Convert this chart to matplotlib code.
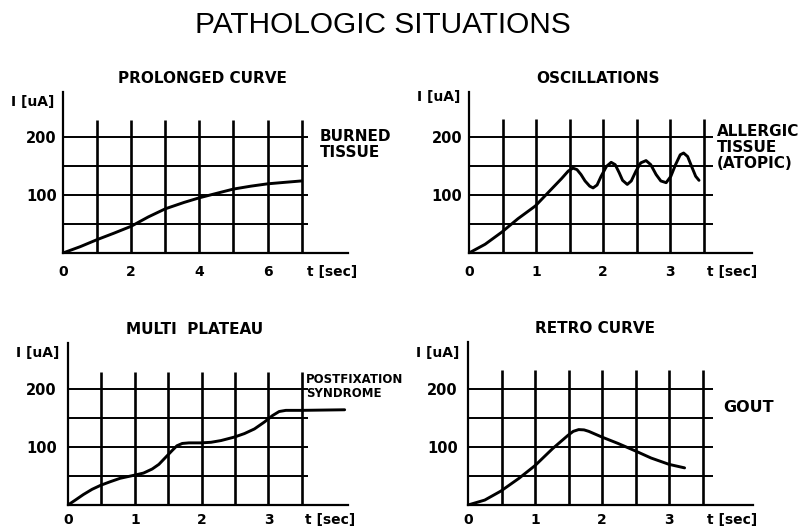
import matplotlib
matplotlib.use("Agg")
import matplotlib.pyplot as plt

plt.rcParams["font.family"] = ["DejaVu Sans"]

W, H = 811, 529

# ---- data -------------------------------------------------------------
# prolonged curve (burned tissue)
t_prolonged = [0, 0.51, 1, 1.49, 2, 2.5, 3, 3.55, 4, 4.53, 5, 5.51, 6, 6.49, 7]
i_prolonged = [0, 11, 23, 34, 46, 62, 76, 87, 95, 103, 110, 115, 119, 121.5, 124]

# oscillations (allergic tissue)
t_osc = [0, 0.24, 0.49, 0.73, 0.99, 1.23, 1.38, 1.48, 1.55, 1.61, 1.67, 1.73,
         1.80, 1.85, 1.91, 1.97, 2.05, 2.12, 2.18, 2.24, 2.29, 2.36, 2.42,
         2.49, 2.56, 2.64, 2.71, 2.79, 2.86, 2.94, 3.01, 3.08, 3.15, 3.20,
         3.26, 3.33, 3.38, 3.43]
i_osc = [0, 15, 36, 59, 81, 110, 128, 141, 146, 143.5, 135, 124,
         115, 112, 117, 132, 149, 156, 152, 138, 125, 118, 124,
         141, 155, 159, 152, 135, 124, 121, 132, 152, 169, 172,
         166, 146, 132, 125]

# multi plateau (postfixation syndrome)
t_multi = [0, 0.11, 0.23, 0.36, 0.49, 0.63, 0.78, 0.98, 1.13, 1.26, 1.36,
           1.46, 1.56, 1.63, 1.71, 1.81, 1.99, 2.14, 2.29, 2.49, 2.64, 2.79,
           2.94, 3.06, 3.16, 3.26, 3.5, 4.14]
i_multi = [0, 8.5, 18, 27, 34, 40, 46, 51, 55, 62, 70,
           82, 94, 102, 106, 107, 107, 108, 111, 117, 123, 131,
           143, 154, 161, 163, 163, 164]

# retro curve (gout)
t_retro = [0, 0.25, 0.49, 0.76, 1.0, 1.26, 1.49, 1.57, 1.65, 1.73, 1.8,
           2.0, 2.24, 2.5, 2.73, 3.0, 3.23]
i_retro = [0, 8.5, 24, 46, 68, 97, 120, 127, 130, 129.5, 127,
           117, 106, 93, 81, 70, 64]

i_grid = [50, 100, 150, 200]
i_ticks = [100, 200]
t_grid_long = [1, 2, 3, 4, 5, 6, 7]
t_grid_short = [0.5, 1, 1.5, 2, 2.5, 3, 3.5]
t_ticks_long = [0, 2, 4, 6]
t_ticks_short = [0, 1, 2, 3]

panels = [
    dict(box=(63, 348, 92, 253), xmax=8.36, ymax=277, ypad=4.5, xpad=9, tdrop=14,
         t=t_prolonged, i=i_prolonged, tgrid=t_grid_long, tticks=t_ticks_long,
         hl_end=7.18, vl_top=229, title="PROLONGED CURVE", title_x=4.1,
         note="BURNED\nTISSUE", note_x=7.54, note_y=214, note_size=11,
         tlabel_x=7.16, ilabel_y=260),
    dict(box=(469, 752, 92, 253), xmax=4.22, ymax=277, ypad=5, xpad=9, tdrop=14,
         t=t_osc, i=i_osc, tgrid=t_grid_short, tticks=t_ticks_short,
         hl_end=3.64, vl_top=231, title="OSCILLATIONS", title_x=1.93,
         note="ALLERGIC\nTISSUE\n(ATOPIC)", note_x=3.70, note_y=222, note_size=11,
         tlabel_x=3.55, ilabel_y=268),
    dict(box=(68, 348, 343, 505), xmax=4.19, ymax=279, ypad=8, xpad=6, tdrop=11,
         t=t_multi, i=i_multi, tgrid=t_grid_short, tticks=t_ticks_short,
         hl_end=3.59, vl_top=229, title="MULTI  PLATEAU", title_x=1.9,
         note="POSTFIXATION\nSYNDROME", note_x=3.56, note_y=227, note_size=8.5,
         tlabel_x=3.54, ilabel_y=262),
    dict(box=(468, 753, 342, 505), xmax=4.25, ymax=281, ypad=7.5, xpad=6, tdrop=11,
         t=t_retro, i=i_retro, tgrid=t_grid_short, tticks=t_ticks_short,
         hl_end=3.66, vl_top=233, title="RETRO CURVE", title_x=1.9,
         note="GOUT", note_x=3.81, note_y=181, note_size=11.5,
         tlabel_x=3.57, ilabel_y=262),
]

fig = plt.figure(figsize=(W / 100, H / 100), dpi=100)
fig.text(383 / W, 1 - 25 / H, "PATHOLOGIC SITUATIONS", ha="center", va="center",
         fontsize=21.5, family="Liberation Sans")

for p in panels:
    l, r, t, b = p["box"]
    ax = fig.add_axes([l / W, 1 - b / H, (r - l) / W, (b - t) / H])
    ax.set_xlim(0, p["xmax"])
    ax.set_ylim(0, p["ymax"])
    for s in ("top", "right"):
        ax.spines[s].set_visible(False)
    for s in ("left", "bottom"):
        ax.spines[s].set_linewidth(1.6)
        ax.spines[s].set_color("black")

    ax.hlines(i_grid, 0, p["hl_end"], color="black", lw=1.4)
    ax.vlines(p["tgrid"], 0, p["vl_top"], color="black", lw=1.9)
    ax.plot(p["t"], p["i"], color="black", lw=2.1, solid_capstyle="round",
            solid_joinstyle="round")

    ax.set_xticks(p["tticks"])
    ax.set_xticklabels([str(v) for v in p["tticks"]], fontsize=10, fontweight="bold")
    ax.set_yticks(i_ticks)
    ax.set_yticklabels([str(v) for v in i_ticks], fontsize=10.5, fontweight="bold")
    ax.tick_params(axis="x", length=0, pad=p["xpad"])
    ax.tick_params(axis="y", length=0, pad=p["ypad"])

    ax.annotate("I [uA]", xy=(0, p["ilabel_y"]), xycoords=("axes fraction", "data"),
                xytext=(-6, 0), textcoords="offset points", ha="right", va="center",
                fontsize=10, fontweight="bold")
    ax.annotate("t [sec]", xy=(p["tlabel_x"], 0), xycoords="data",
                xytext=(0, -p["tdrop"]), textcoords="offset points", ha="left",
                va="center", fontsize=10, fontweight="bold", annotation_clip=False)
    ax.annotate(p["title"], xy=(p["title_x"], 1), xycoords=("data", "axes fraction"),
                xytext=(0, 4), textcoords="offset points", ha="center", va="bottom",
                fontsize=11, fontweight="bold", annotation_clip=False)
    ax.text(p["note_x"], p["note_y"], p["note"], ha="left", va="top",
            fontsize=p["note_size"], fontweight="bold", linespacing=1.1,
            clip_on=False)

fig.savefig("out.png", dpi=100)
